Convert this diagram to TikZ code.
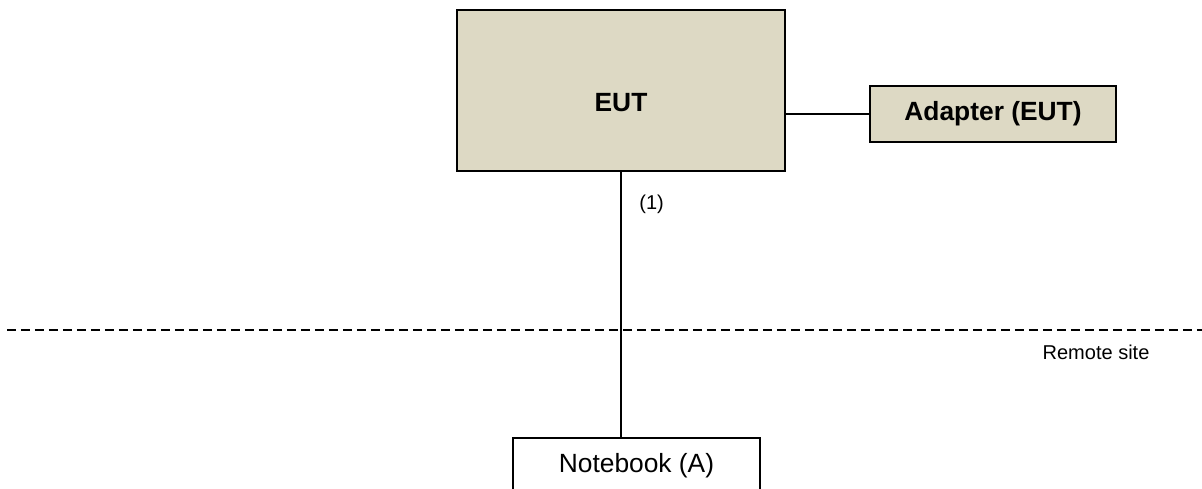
\documentclass[tikz,border=0pt]{standalone}
\usepackage{fontspec}
\setmainfont{Liberation Sans}
\usetikzlibrary{positioning}
\definecolor{eutfill}{RGB}{221,217,196}

\begin{document}
\begin{tikzpicture}[x=0.02cm,y=-0.02cm,
  box_eut/.style={rectangle,line width=1.1pt,inner sep=0pt,fill=eutfill,draw=black,font=\bfseries\fontsize{15}{18}\selectfont},
  box_remote/.style={rectangle,line width=1.1pt,inner sep=0pt,fill=white,draw=black,font=\fontsize{15}{18}\selectfont},
  cable/.style={line width=1.1pt},
  site_line/.style={line width=1.1pt,dash pattern=on 0.18cm off 0.1cm},
  small_label/.style={inner sep=0pt,font=\fontsize{11.4}{13}\selectfont}
  ]
  \useasboundingbox (0,0) rectangle (1202,488);

%local site
  \node (EUT) [box_eut,minimum width=6.56cm,minimum height=3.22cm] at(621,90.5) {\raisebox{-0.24cm}[\height][\depth]{EUT}};
  \node (Adapter_EUT) [box_eut,minimum width=4.92cm,minimum height=1.12cm] at(993,114) {Adapter (EUT)};

%remote site
  \node (Notebook_A) [box_remote,minimum width=4.94cm,minimum height=1.12cm] at(636.5,466) {Notebook (A)};

  \coordinate (site_left) at(7,330);
  \coordinate (site_right) at(1202,330);
  \draw[site_line] (site_left) -- (site_right);
  \node (Remote_site) [small_label] at(1096,352) {Remote site};

%cables
  \draw[cable] (EUT.east |- Adapter_EUT.west) -- (Adapter_EUT.west);
  \draw[cable] (EUT.south) -- (EUT.south |- Notebook_A.north);
  \node (cable_1) [small_label,below right=0.46cm and 0.36cm of EUT.south,anchor=north west] {(1)};

\end{tikzpicture}
\end{document}
